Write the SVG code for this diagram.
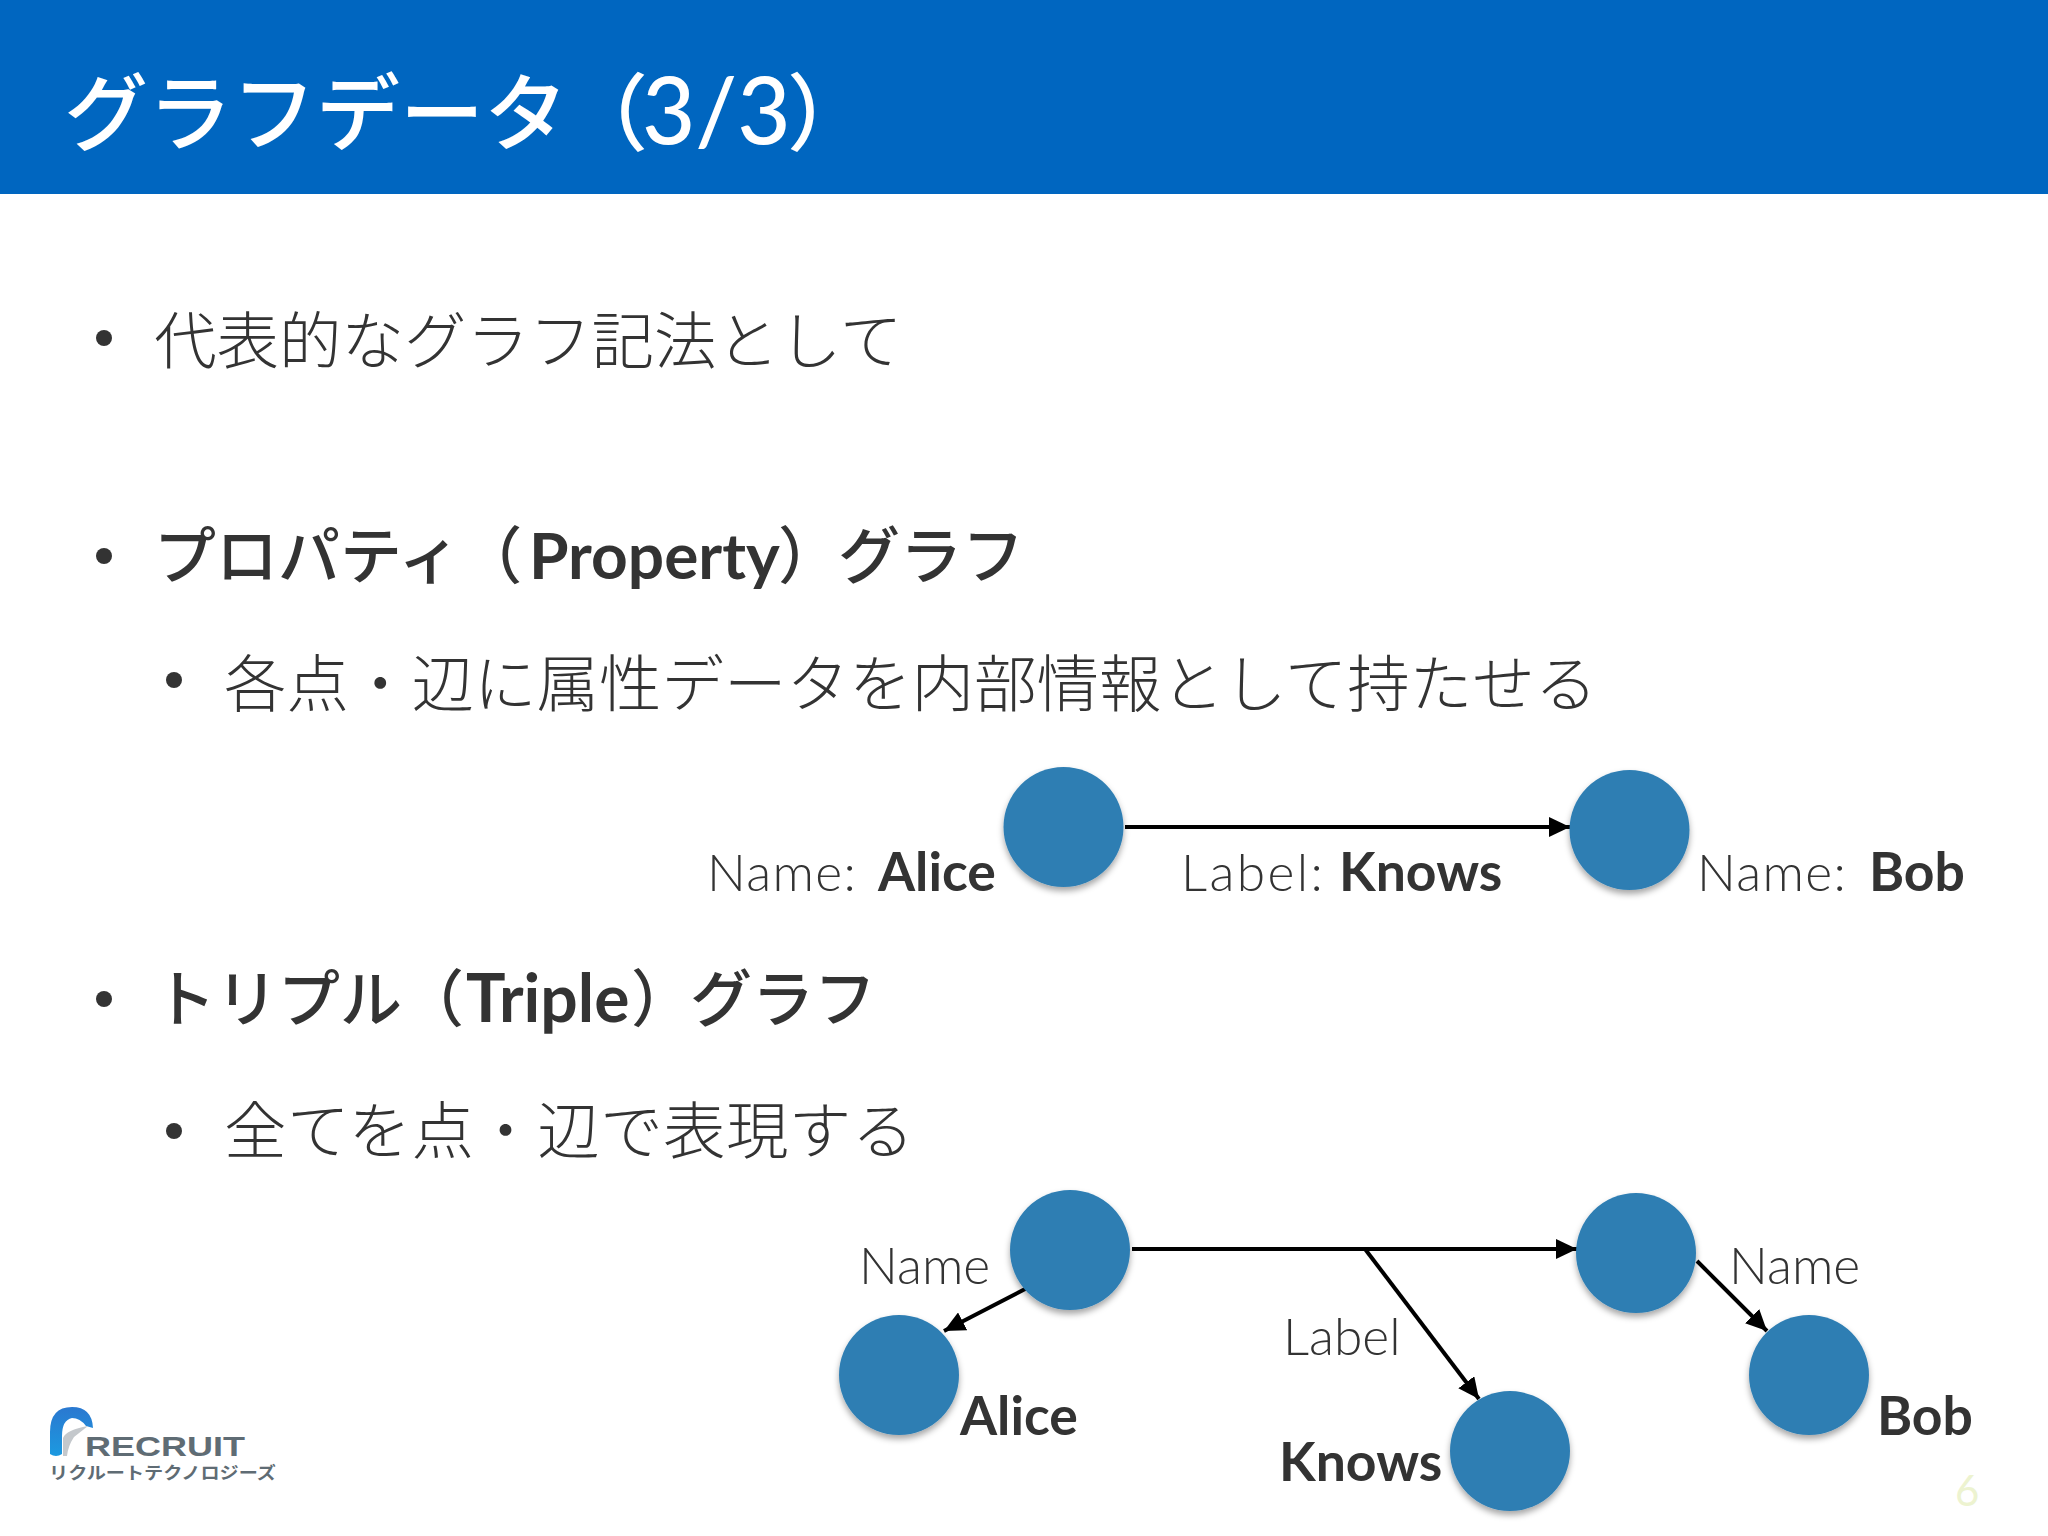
<svg xmlns="http://www.w3.org/2000/svg" width="2048" height="1536" viewBox="0 0 2048 1536">
<defs>
<filter id="sh" x="-20%" y="-20%" width="140%" height="150%"><feDropShadow dx="0" dy="4" stdDeviation="3" flood-color="#000" flood-opacity="0.35"/></filter>
<marker id="arr" markerUnits="userSpaceOnUse" markerWidth="22" markerHeight="20" refX="21" refY="10" orient="auto"><path d="M0 0L21 10L0 20Z" fill="#000"/></marker>
<linearGradient id="lg" x1="0" y1="0" x2="0" y2="1"><stop offset="0" stop-color="#2a78d0"/><stop offset="1" stop-color="#1c9ae0"/></linearGradient>
</defs>
<style>
text{font-family:"Noto Sans CJK JP","Noto Sans",sans-serif;fill:#333}
.b{font-size:62.5px;font-weight:300}
.m{font-size:62px;font-weight:500}
.l{font-family:"Lato","Noto Sans",sans-serif;font-size:51.5px;font-weight:300}
.lb{font-family:"Lato","Noto Sans",sans-serif;font-weight:700;font-size:53.5px;letter-spacing:0}
.lm{font-family:"Lato","Noto Sans",sans-serif;font-weight:700}
.n{fill:#2e7eb3;filter:url(#sh)}
.c{stroke:#000;fill:none;stroke-width:4}
.dot{fill:#333}
</style>
<rect width="2048" height="194" fill="#0066c0"/>
<text x="64" y="144" font-size="84" style="fill:#fff;font-weight:500">グラフデータ<tspan x="564">（</tspan><tspan x="642" font-size="92" style="font-family:'Lato',sans-serif;font-weight:500">3/3</tspan><tspan x="787">）</tspan></text>

<circle class="dot" cx="104" cy="338" r="8"/>
<text class="b" x="154" y="364">代表的なグラフ記法として</text>
<circle class="dot" cx="104" cy="556" r="8"/>
<text class="m" x="154" y="579">プロパティ（<tspan class="lm" x="529" font-size="64">Property</tspan><tspan x="778">）</tspan><tspan x="838">グラフ</tspan></text>
<circle class="dot" cx="174" cy="680" r="8"/>
<text class="b" x="224" y="707">各点・辺に属性データを内部情報として持たせる</text>
<circle class="dot" cx="104" cy="999" r="8"/>
<text class="m" x="154" y="1022">トリプル（<tspan class="lm" x="466" font-size="66">Triple</tspan><tspan x="631">）</tspan><tspan x="690">グラフ</tspan></text>
<circle class="dot" cx="174" cy="1131" r="8"/>
<text class="b" x="224" y="1154" letter-spacing="0.4">全てを点・辺で表現する</text>

<g id="connectors">
<line class="c" x1="1125" y1="827" x2="1570" y2="827" marker-end="url(#arr)"/>
<line class="c" x1="1132" y1="1249" x2="1577" y2="1249" marker-end="url(#arr)"/>
<line class="c" x1="1365" y1="1249" x2="1479" y2="1399" marker-end="url(#arr)"/>
<line class="c" x1="1027" y1="1288" x2="944" y2="1331" marker-end="url(#arr)"/>
<line class="c" x1="1697" y1="1261" x2="1767" y2="1331" marker-end="url(#arr)"/>
</g>

<g id="n1"><circle class="n" cx="1063.5" cy="827" r="60"/><text class="l" x="707" y="891" letter-spacing="1.3">Name: <tspan class="lb" x="878">Alice</tspan></text></g>
<g id="n2"><circle class="n" cx="1629.5" cy="830" r="60"/><text class="l" x="1697" y="891" letter-spacing="1.3">Name: <tspan class="lb" x="1869">Bob</tspan></text></g>
<g id="e1"><text class="l" x="1181" y="891" letter-spacing="2.4">Label: <tspan class="lb" x="1339">Knows</tspan></text></g>
<g id="t1"><circle class="n" cx="1070" cy="1250" r="60"/><text class="l" x="859" y="1284">Name</text></g>
<g id="t2"><circle class="n" cx="1636" cy="1253" r="60"/><text class="l" x="1729" y="1284">Name</text></g>
<g id="t3"><circle class="n" cx="899" cy="1375" r="60"/><text class="lb" x="960" y="1435">Alice</text></g>
<g id="t4"><circle class="n" cx="1510" cy="1451" r="60"/><text class="lb" x="1279" y="1481">Knows</text></g>
<g id="t5"><circle class="n" cx="1809" cy="1375" r="60"/><text class="lb" x="1877" y="1435">Bob</text></g>
<text class="l" x="1283" y="1355">Label</text>
<text x="1955" y="1506" font-size="42" style="fill:#edf3d0;font-family:'Lato',sans-serif">6</text>

<g id="logo">
<path d="M50 1454V1432Q50 1407 72 1407Q92 1407 93 1428L86 1426Q80 1418 72 1418Q62 1420 62 1436V1454Q56 1458 50 1454Z" fill="url(#lg)"/>
<path d="M63 1456V1438Q66 1430 88 1426L74 1437Q68 1446 67 1456Z" fill="#c4c8cc"/>
<text x="85" y="1456" font-size="28" style="font-family:'Liberation Sans',sans-serif;font-weight:700;fill:#5f6c74" textLength="160" lengthAdjust="spacingAndGlyphs">RECRUIT</text>
<text x="49" y="1479" font-size="17" style="fill:#5f6c74;font-weight:700" textLength="227" lengthAdjust="spacingAndGlyphs">リクルートテクノロジーズ</text>
</g>
</svg>
